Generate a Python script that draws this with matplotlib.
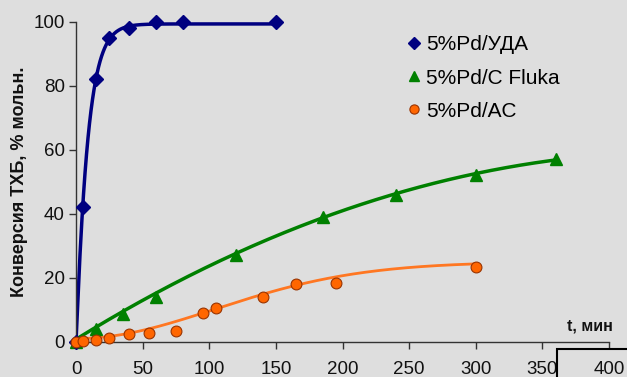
import numpy as np
import matplotlib
matplotlib.use("Agg")
import matplotlib.pyplot as plt
from matplotlib.patches import Rectangle

plt.rcParams['font.family'] = ['Liberation Sans', 'DejaVu Sans']

# Data
t_uda = [0, 5, 15, 25, 40, 60, 80, 150]
y_uda = [0, 42, 82, 95, 98, 100, 100, 100]

t_fluka = [0, 15, 35, 60, 120, 185, 240, 300, 360]
y_fluka = [0, 4, 8.7, 14, 27, 39, 45.8, 52, 57]

t_ac = [0, 5, 15, 25, 40, 55, 75, 95, 105, 140, 165, 195, 300]
y_ac = [0, 0.1, 0.5, 1.3, 2.4, 2.8, 3.4, 9.1, 10.5, 14.1, 17.9, 18.4, 23.4]

labels = ['5%Pd/УДА', '5%Pd/C Fluka', '5%Pd/AC']
xticks = [0, 50, 100, 150, 200, 250, 300, 350, 400]
yticks = [0, 20, 40, 60, 80, 100]

bg = '#dedede'
c_blue = '#000080'
c_green = '#008000'
c_orange = '#ff6600'
c_orange_line = '#ff7722'


def weibull_fit(t, y, A_range, tau_range, n_range):
    t = np.asarray(t, float); y = np.asarray(y, float)
    best = None
    for A in A_range:
        for tau in tau_range:
            for n in n_range:
                pred = A * (1 - np.exp(-(t / tau) ** n))
                err = np.sum((pred - y) ** 2)
                if best is None or err < best[0]:
                    best = (err, A, tau, n)
    return best[1:]


fig = plt.figure(figsize=(6.27, 3.77), dpi=100, facecolor=bg)
ax = fig.add_axes([76/627, 1-341.7/377, (609-76)/627, (341.7-21.7)/377])
ax.set_facecolor(bg)

# Trend curves fitted from the data
A, tau, n = weibull_fit(t_uda, y_uda, [99.3], np.linspace(4, 15, 111), np.linspace(0.7, 1.6, 91))
xs = np.linspace(0, 150, 400)
ax.plot(xs, A * (1 - np.exp(-(xs / tau) ** n)), color=c_blue, lw=2.5, zorder=2)

pg = np.polyfit(t_fluka, y_fluka, 2)
xs = np.linspace(0, 360, 300)
ax.plot(xs, np.polyval(pg, xs) + 0.8 * (1 - xs / 360), color=c_green, lw=2.5, zorder=2)

A, tau, n = weibull_fit(t_ac, y_ac, np.linspace(24, 34, 21), np.linspace(80, 260, 61), np.linspace(0.8, 2.0, 25))
xs = np.linspace(0, 300, 300)
ax.plot(xs, A * (1 - np.exp(-(xs / tau) ** n)) + 1.0 * (1 - xs / 300) + 0.8 * (xs / 300) ** 2,
        color=c_orange_line, lw=2, zorder=2)

# Markers
ax.plot(t_uda, y_uda, 'D', color=c_blue, ms=7, ls='none', clip_on=False, zorder=4, label=labels[0])
ax.plot(t_fluka, y_fluka, '^', color=c_green, ms=9, ls='none', clip_on=False, zorder=3, label=labels[1])
ax.plot(t_ac, y_ac, 'o', mfc=c_orange, mec='#993300', mew=0.8, ms=7.8, ls='none', clip_on=False, zorder=4, label=labels[2])

ax.set_xlim(0, 400)
ax.set_ylim(0, 100)
ax.set_xticks(xticks)
ax.set_yticks(yticks)
ax.tick_params(axis='both', direction='out', length=5, width=1, color='#333333', labelsize=13.5, colors='#111111')
ax.tick_params(axis='x', pad=9)
ax.tick_params(axis='y', pad=3)
for s in ['top', 'right']:
    ax.spines[s].set_visible(False)
for s in ['left', 'bottom']:
    ax.spines[s].set_color('#333333')
    ax.spines[s].set_linewidth(1)

fig.text(20/627, 1-182/377, 'Конверсия ТХБ, % мольн.', rotation=90, ha='center', va='center',
         fontsize=13, fontweight='bold', color='#111111')
fig.text(613/627, 1-326/377, 't, мин', ha='right', va='center', fontsize=11.5, fontweight='bold', color='#111111')

leg = ax.legend(loc='upper left', bbox_to_anchor=(397/627, 1-25/377), bbox_transform=fig.transFigure,
                frameon=False, fontsize=15, handlelength=0.6, handletextpad=0.3, labelspacing=0.68,
                markerscale=0.85, borderpad=0)

fig.patches.append(Rectangle((557, -5), 80, 377-349+5, transform=None, fill=False, ec='black', lw=1.5, figure=fig))

fig.savefig('out.png', dpi=100, facecolor=bg)
